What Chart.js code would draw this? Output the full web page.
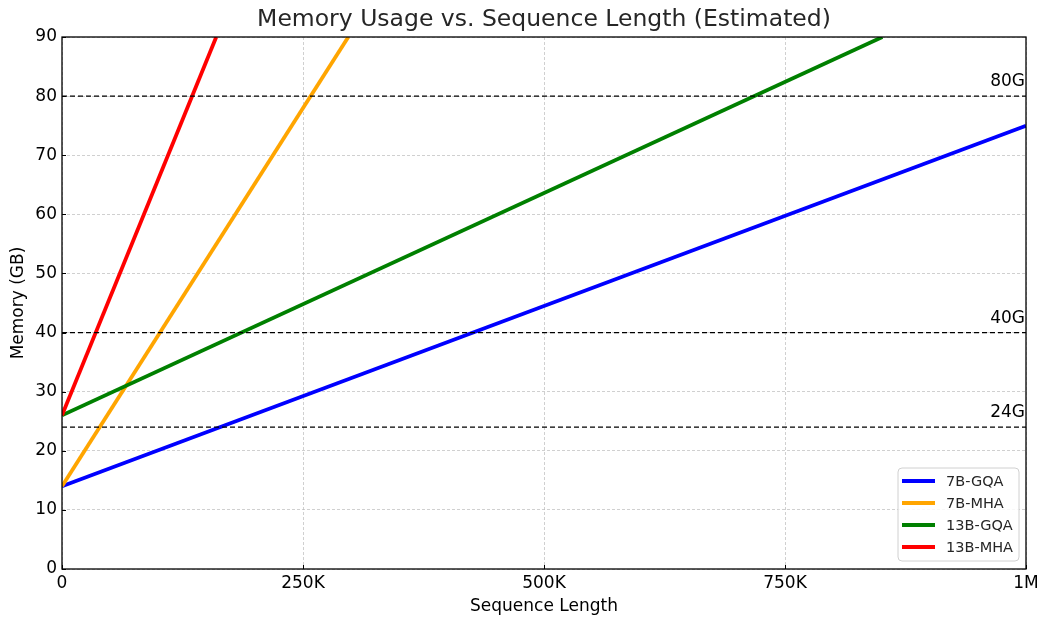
<!DOCTYPE html>
<html>
<head>
<meta charset="utf-8">
<script src="https://cdn.jsdelivr.net/npm/chart.js@4/dist/chart.umd.min.js"></script>
<style>
  html, body { margin: 0; padding: 0; background: #fff; }
  canvas { display: block; }
</style>
</head>
<body>
<canvas id="memChart" width="1050" height="626"></canvas>
<script>
// dati (x = token, y = GB)
const gqa7bX  = [0, 1000000];
const gqa7bY  = [14, 75];
const mha7bX  = [0, 297000];
const mha7bY  = [14, 90];
const gqa13bX = [0, 851000];
const gqa13bY = [26, 90];
const mha13bX = [0, 160000];
const mha13bY = [26, 90];

const seriesNames  = ['7B-GQA', '7B-MHA', '13B-GQA', '13B-MHA'];
const seriesColors = ['#0000ff', '#ffa500', '#008000', '#ff0000'];

const limitValues = [80, 40, 24]; // linee tratteggiate GPU
const limitLabels = ['80G', '40G', '24G'];

const xTicks      = [0, 250000, 500000, 750000, 1000000];
const xTickLabels = ['0', '250K', '500K', '750K', '1M'];
const yMax = 90;

const FONT = "'DejaVu Sans', sans-serif";

function pts(xs, ys){ return xs.map((x, i) => ({ x, y: ys[i] })); } // coppie x,y

const seriesData = [pts(gqa7bX, gqa7bY), pts(mha7bX, mha7bY), pts(gqa13bX, gqa13bY), pts(mha13bX, mha13bY)];

const datasets = seriesData.map((d, i) => ({
  label: seriesNames[i], data: d, borderColor: seriesColors[i], backgroundColor: seriesColors[i],
  borderWidth: 3.8, pointRadius: 0, tension: 0, order: 4 - i
}));

limitValues.forEach((v, i) => { // linee orizzontali 24/40/80
  datasets.push({
    label: limitLabels[i], data: [{ x: 0, y: v }, { x: 1000000, y: v }],
    borderColor: '#000', borderWidth: 1.3, borderDash: [5, 3], pointRadius: 0, order: 0
  });
});

const extras = { // titolo, cornice, tacche interne, etichette limiti, legenda
  id: 'extras',
  afterDraw(chart){
    const { ctx, chartArea: a, scales: { x, y } } = chart;
    ctx.save();

    ctx.fillStyle = '#262626';
    ctx.font = `23.5px ${FONT}`;
    ctx.textAlign = 'center'; ctx.textBaseline = 'middle';
    ctx.fillText('Memory Usage vs. Sequence Length (Estimated)', (a.left + a.right) / 2, 20);

    // tacche verso l'interno
    ctx.strokeStyle = '#000'; ctx.lineWidth = 1;
    ctx.beginPath();
    xTicks.forEach(t => { const px = Math.round(x.getPixelForValue(t)) + 0.5; ctx.moveTo(px, a.bottom); ctx.lineTo(px, a.bottom - 4); });
    y.ticks.forEach(t => { const py = Math.round(y.getPixelForValue(t.value)) + 0.5; ctx.moveTo(a.left, py); ctx.lineTo(a.left + 4, py); });
    ctx.stroke();

    ctx.lineWidth = 1.3;
    ctx.strokeRect(a.left, a.top, a.right - a.left, a.bottom - a.top);

    // etichette 80G 40G 24G
    ctx.fillStyle = '#000';
    ctx.font = `17px ${FONT}`;
    ctx.textAlign = 'right'; ctx.textBaseline = 'alphabetic';
    limitValues.forEach((v, i) => ctx.fillText(limitLabels[i], a.right - 1, y.getPixelForValue(v) - 10));

    // legenda in basso a destra
    const lw = 121, lh = 93;
    const lx = a.right - 7 - lw, ly = a.bottom - 8 - lh;
    ctx.beginPath();
    ctx.roundRect(lx, ly, lw, lh, 4);
    ctx.fillStyle = 'rgba(255,255,255,0.85)'; ctx.fill();
    ctx.strokeStyle = '#d0d0d0'; ctx.lineWidth = 1; ctx.stroke();
    ctx.font = `14.5px ${FONT}`;
    ctx.textAlign = 'left'; ctx.textBaseline = 'middle';
    seriesNames.forEach((n, i) => {
      const ry = ly + 13 + i * 22;
      ctx.strokeStyle = seriesColors[i]; ctx.lineWidth = 3.8;
      ctx.beginPath(); ctx.moveTo(lx + 4, ry); ctx.lineTo(lx + 37, ry); ctx.stroke();
      ctx.fillStyle = '#262626';
      ctx.fillText(n, lx + 48, ry + 1);
    });
    ctx.restore();
  }
};

const gridOpts = { color: 'rgba(190,190,190,0.9)', lineWidth: 0.8, drawTicks: false };

new Chart(document.getElementById('memChart').getContext('2d'), {
  type: 'line',
  data: { datasets },
  options: {
    responsive: false, animation: false,
    layout: { padding: { top: 37, right: 24, left: 0, bottom: 0 } },
    plugins: { legend: { display: false }, tooltip: { enabled: false } },
    scales: {
      x: {
        type: 'linear', min: 0, max: 1000000,
        afterBuildTicks: s => { s.ticks = xTicks.map(v => ({ value: v })); },
        afterFit: s => { s.height = 57; },
        ticks: { color: '#000', padding: 4, maxRotation: 0, font: { family: FONT, size: 17 },
                 callback: v => xTickLabels[xTicks.indexOf(v)] },
        grid: gridOpts,
        border: { display: false, dash: [3, 2] },
        title: { display: true, text: 'Sequence Length', color: '#000', font: { family: FONT, size: 17 }, padding: { top: 12, bottom: 9 } }
      },
      y: {
        min: 0, max: yMax,
        afterFit: s => { s.width = 62; },
        ticks: { stepSize: 10, color: '#000', padding: 5, font: { family: FONT, size: 17 } },
        grid: gridOpts,
        border: { display: false, dash: [3, 2] },
        title: { display: true, text: 'Memory (GB)', color: '#000', font: { family: FONT, size: 17 }, padding: { top: 8, bottom: 8 } }
      }
    }
  },
  plugins: [extras]
});
</script>
</body>
</html>
